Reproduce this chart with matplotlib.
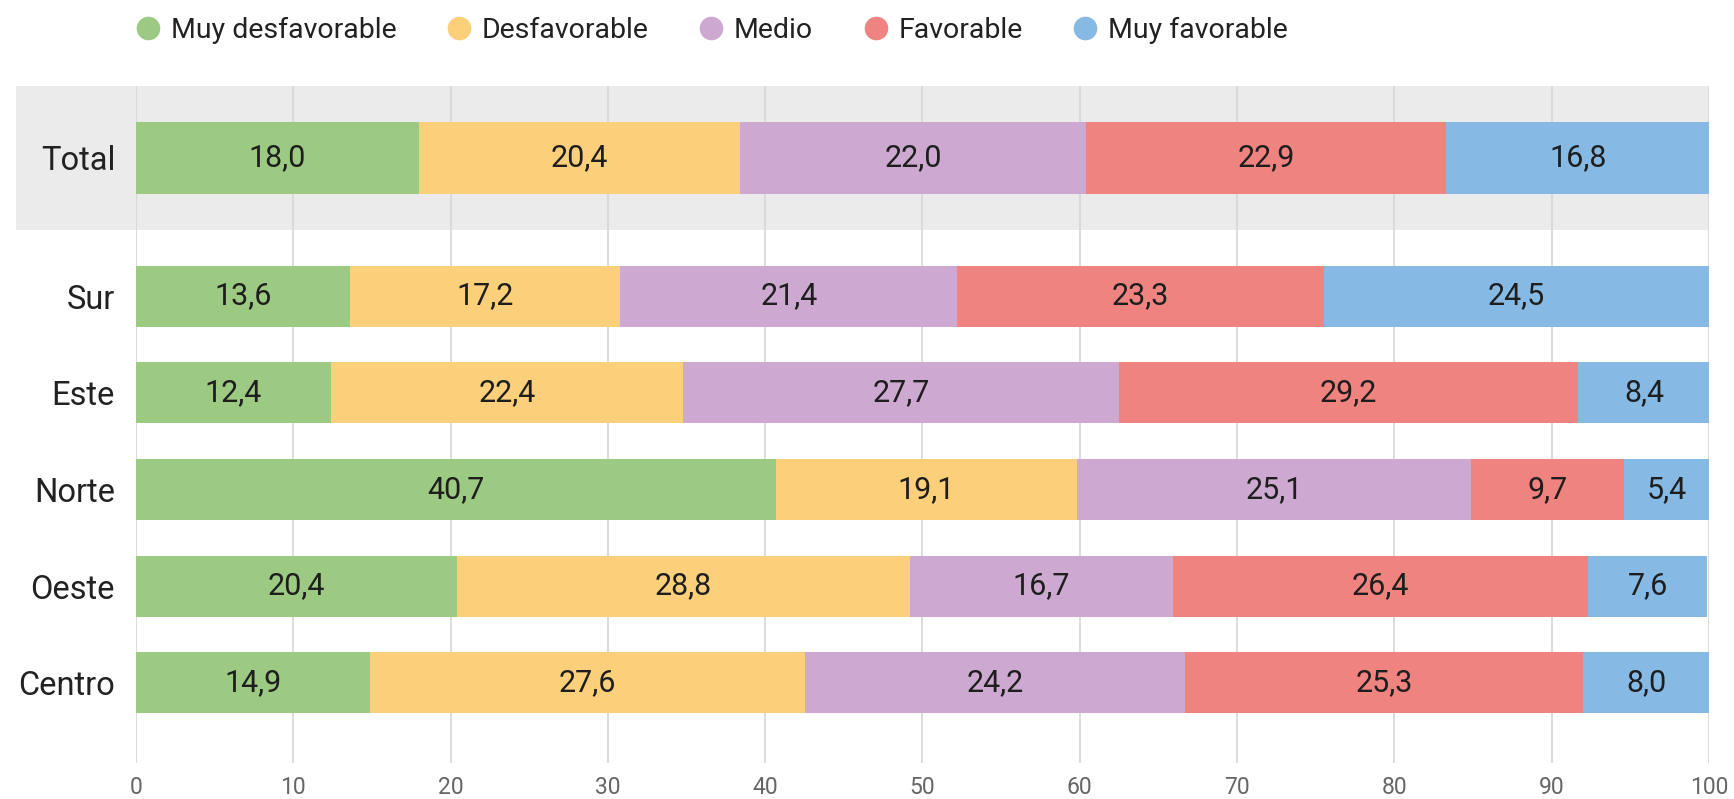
import matplotlib
matplotlib.use("Agg")
import matplotlib.pyplot as plt
from matplotlib.patches import Rectangle
from matplotlib.lines import Line2D
import numpy as np

plt.rcParams['font.family'] = ['Roboto', 'DejaVu Sans']

# data
regions = ["Total", "Sur", "Este", "Norte", "Oeste", "Centro"]
categories = ["Muy desfavorable", "Desfavorable", "Medio", "Favorable", "Muy favorable"]
muy_desfavorable = [18.0, 13.6, 12.4, 40.7, 20.4, 14.9]
desfavorable = [20.4, 17.2, 22.4, 19.1, 28.8, 27.6]
medio = [22.0, 21.4, 27.7, 25.1, 16.7, 24.2]
favorable = [22.9, 23.3, 29.2, 9.7, 26.4, 25.3]
muy_favorable = [16.8, 24.5, 8.4, 5.4, 7.6, 8.0]
x_ticks = [0, 10, 20, 30, 40, 50, 60, 70, 80, 90, 100]

colors = ["#9dca82", "#fcd07a", "#cda8d0", "#ef837f", "#86bae5"]
series = [muy_desfavorable, desfavorable, medio, favorable, muy_favorable]

# y positions: Total sits apart from the regions, inside a grey band
y_pos = np.array([5.43, 4, 3, 2, 1, 0])
heights = np.array([0.74, 0.63, 0.63, 0.63, 0.63, 0.63])

fig = plt.figure(figsize=(17.34, 7.99), dpi=100)
ax = fig.add_axes([0.0784, 0.045, 0.9072, 0.847])
ax.set_xlim(0, 100)
ax.set_ylim(-0.83, 6.17)

# grey band behind Total
band = Rectangle((-7.6, 4.68), 107.6, 1.49, facecolor="#ebebeb", edgecolor="none",
                 clip_on=False, zorder=0)
ax.add_patch(band)

for x in x_ticks:
    ax.axvline(x, color="#d6d6d6", lw=1.2, zorder=1)

left = np.zeros(len(regions))
for vals, col in zip(series, colors):
    vals = np.array(vals)
    ax.barh(y_pos, vals, height=heights, left=left, color=col, edgecolor="none", zorder=2)
    for yy, l, v in zip(y_pos, left, vals):
        ax.text(l + v / 2, yy, f"{v:.1f}".replace(".", ","), ha="center", va="center",
                fontsize=22, color="#1e1e1e", zorder=3)
    left = left + vals

ax.set_yticks(y_pos)
ax.set_yticklabels(regions, fontsize=23.5, color="#222222")
ax.set_xticks(x_ticks)
ax.set_xticklabels([str(t) for t in x_ticks], fontsize=16.5, color="#666666")
ax.tick_params(axis="y", length=0, pad=15)
ax.tick_params(axis="x", length=0, pad=9)
for s in ax.spines.values():
    s.set_visible(False)
ax.patch.set_alpha(0)

handles = [Line2D([], [], marker="o", linestyle="none", markersize=17,
                  markerfacecolor=c, markeredgecolor="none") for c in colors]
fig.legend(handles, categories, loc="center left", bbox_to_anchor=(0.059, 0.962),
           ncol=5, frameon=False, fontsize=20.5,
           handletextpad=0.1, columnspacing=1.5, handlelength=1.4,
           labelcolor="#222222")

fig.savefig("out.png", dpi=100)
